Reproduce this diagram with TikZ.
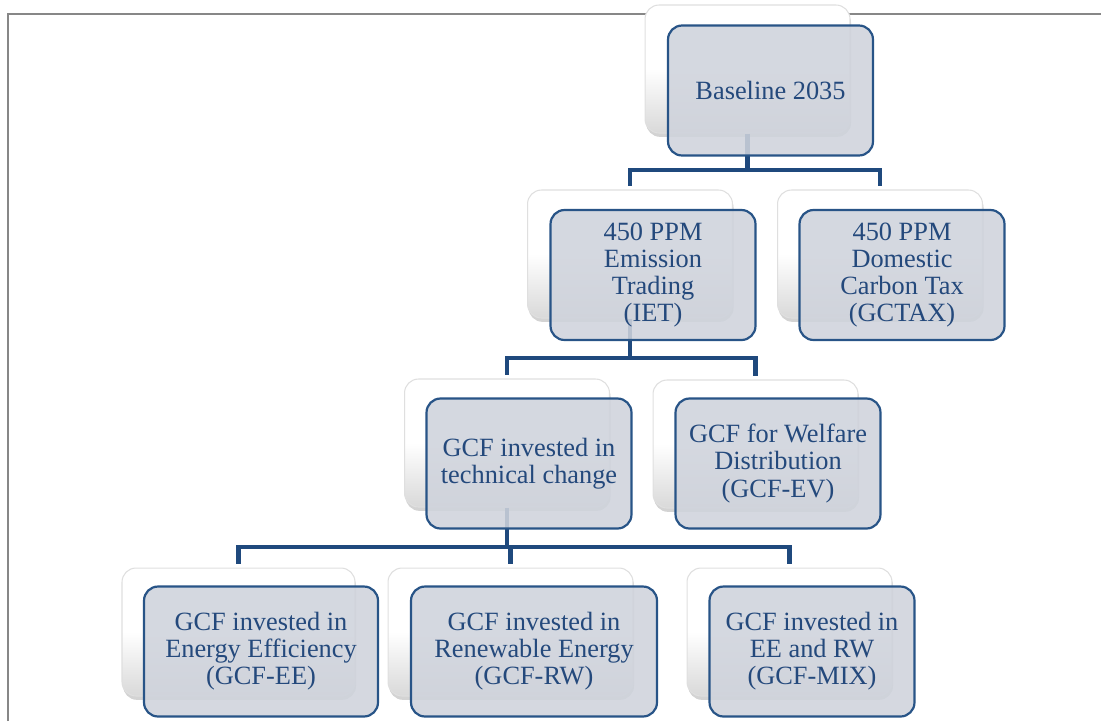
\documentclass[tikz,border=0pt]{standalone}
\usepackage{fontspec}
\setmainfont{Liberation Serif}
\usetikzlibrary{shadows}

\definecolor{linkblue}{RGB}{31,73,125}
\definecolor{edgeblue}{RGB}{40,84,135}
\definecolor{boxfill}{RGB}{207,211,220}
\definecolor{textblue}{RGB}{36,73,124}
\definecolor{framegray}{RGB}{135,135,135}

\tikzset{
  backbox/.style={rectangle, rounded corners=0.28cm, draw=gray!25, line width=0.6pt,
    top color=white, bottom color=gray!30, middle color=white, inner sep=0pt,
    minimum width=4.1cm, minimum height=2.56cm,
    drop shadow={shadow xshift=0.6pt, shadow yshift=-2.2pt, opacity=0.35, fill=gray}},
  frontbox/.style={rectangle, rounded corners=0.28cm, draw=edgeblue, line width=1.25pt,
    fill=boxfill, fill opacity=0.88, text opacity=1, text=textblue, align=center,
    inner sep=0pt, minimum width=4.1cm, minimum height=2.6cm,
    font=\fontsize{15}{15.4}\selectfont},
  link/.style={draw=linkblue, line width=2.3pt, line join=miter},
  frame/.style={draw=framegray, line width=0.9pt}
}

\begin{document}
\begin{tikzpicture}[x=0.02cm, y=-0.02cm]
    \useasboundingbox (0,0) rectangle (1101,721);
    \draw[frame] (8,721) -- (8,14) -- (1101,14); % page border

    % the boxes behind (the tree hangs on these)
    \node[backbox] (base-bg) at (747.5,69) {};
    \node[backbox] (iet-bg) at (630,254) {};
    \node[backbox] (gctax-bg) at (880,254) {};
    \node[backbox] (tech-bg) at (507,443) {};
    \node[backbox] (welfare-bg) at (755.5,444) {};
    \node[backbox, minimum width=4.66cm] (ee-bg) at (238.5,632) {};
    \node[backbox, minimum width=4.9cm] (rw-bg) at (510.5,632) {};
    \node[backbox] (mix-bg) at (789.5,632) {};

    % links between the levels
    \coordinate (j1) at (747.5,170);
    \coordinate (j2) at (630,358);
    \coordinate (j3) at (507,547);
    \draw[link] (base-bg.south) -- (j1);
    \draw[link, shorten >=2pt] (j1) -| (iet-bg.north);
    \draw[link, shorten >=2pt] (j1) -| (gctax-bg.north);
    \draw[link] (iet-bg.south) -- (j2);
    \draw[link, shorten >=2pt] (j2) -| (tech-bg.north);
    \draw[link, shorten >=2pt] (j2) -| (welfare-bg.north);
    \draw[link] (tech-bg.south) -- (j3);
    \draw[link, shorten >=2pt] (j3) -| (ee-bg.north);
    \draw[link, shorten >=2pt] (j3) -| (rw-bg.north);
    \draw[link, shorten >=2pt] (j3) -| (mix-bg.north);

    % the boxes in front, with the labels
    \node[frontbox] (base) at (770.5,90.5) {Baseline 2035};
    \node[frontbox] (iet) at (653,275) {450 PPM\\Emission\\Trading\\(IET)};
    \node[frontbox] (gctax) at (902,275) {450 PPM\\Domestic\\Carbon Tax\\(GCTAX)};
    \node[frontbox] (tech) at (529,463.5) {GCF invested in\\technical change};
    \node[frontbox] (welfare) at (778,463.5) {GCF for Welfare\\Distribution\\(GCF-EV)};
    \node[frontbox, minimum width=4.68cm] (ee) at (261,651.5) {GCF invested in\\Energy Efficiency\\(GCF-EE)};
    \node[frontbox, minimum width=4.92cm] (rw) at (534,651.5) {GCF invested in\\Renewable Energy\\(GCF-RW)};
    \node[frontbox] (mix) at (812,651.5) {GCF invested in\\EE and RW\\(GCF-MIX)};
\end{tikzpicture}
\end{document}
